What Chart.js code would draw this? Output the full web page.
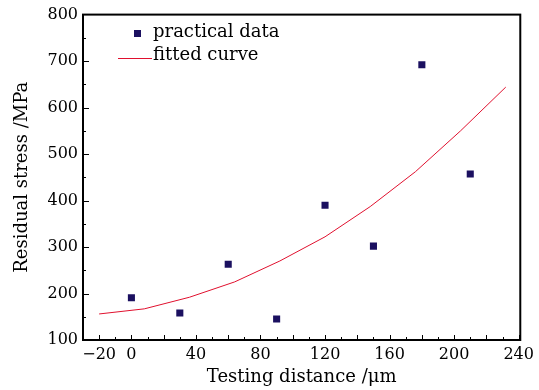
<!DOCTYPE html>
<html>
<head>
<meta charset="utf-8">
<script src="https://cdn.jsdelivr.net/npm/chart.js@4/dist/chart.umd.min.js"></script>
<style>
  html, body { margin: 0; padding: 0; background: #fff; }
  #wrap { width: 539px; height: 390px; }
</style>
</head>
<body>
<div id="wrap"><canvas id="chart" width="539" height="390"></canvas></div>
<script>
// measured points
const distX = [0, 30, 60, 90, 120, 150, 180, 210];
const stressY = [191, 158, 263, 145, 390, 302, 692, 457];

// fitted curve, sampled
const fitX = [-20, 8, 36, 64, 92, 120, 148, 176, 204, 232];
const fitY = [156, 167, 192, 225, 270, 322, 387, 462, 550, 644];

// axis ticks
const xLabels = [-20, 0, 40, 80, 120, 160, 200, 240];
const yLabels = [100, 200, 300, 400, 500, 600, 700, 800];

const serif = "'DejaVu Serif', 'Liberation Serif', serif";
const ink = '#000';

const i = id => document.getElementById(id);

const framePlugin = {
  id: 'frame',
  afterDraw(chart) {
    const { ctx, chartArea: a, scales } = chart;
    const xs = scales.x, ys = scales.y;
    ctx.save();
    ctx.strokeStyle = ink;

    // inward ticks
    ctx.lineWidth = 1;
    ctx.beginPath();
    for (let v = -20; v <= 240; v += 10) {
      const px = Math.round(xs.getPixelForValue(v)) + 0.5;
      const len = v % 20 === 0 ? 5 : 3;
      ctx.moveTo(px, a.bottom);
      ctx.lineTo(px, a.bottom - len);
    }
    for (let v = 150; v < 800; v += 50) {
      const py = Math.round(ys.getPixelForValue(v)) + 0.5;
      const len = v % 100 === 0 ? 6 : 3;
      ctx.moveTo(a.left, py);
      ctx.lineTo(a.left + len, py);
    }
    ctx.stroke();

    // box
    ctx.lineWidth = 2;
    ctx.strokeRect(a.left, a.top, a.right - a.left, a.bottom - a.top);

    // legend
    const pts = chart.data.datasets[0], fit = chart.data.datasets[1];
    ctx.font = '18px ' + serif;
    ctx.textBaseline = 'alphabetic';
    ctx.textAlign = 'left';
    const lx = a.left + 70;
    ctx.fillStyle = pts.backgroundColor;
    ctx.fillRect(lx - 19, 30, 7, 7);
    ctx.fillStyle = ink;
    ctx.fillText('practical data', lx, 37);
    ctx.strokeStyle = fit.borderColor;
    ctx.lineWidth = 1;
    ctx.beginPath();
    ctx.moveTo(lx - 35, 58.5);
    ctx.lineTo(lx - 1, 58.5);
    ctx.stroke();
    ctx.fillText('fitted curve', lx, 60);
    ctx.restore();
  }
};

new Chart(i('chart'), {
  type: 'scatter',
  data: {
    datasets: [
      {
        label: 'practical data',
        data: distX.map((x, k) => ({ x, y: stressY[k] })),
        pointStyle: 'rect',
        pointRadius: 5,
        pointBorderWidth: 0,
        backgroundColor: '#1b1060',
        borderColor: '#1b1060'
      },
      {
        label: 'fitted curve',
        data: fitX.map((x, k) => ({ x, y: fitY[k] })),
        showLine: true,
        pointRadius: 0,
        borderWidth: 1,
        borderColor: '#e0102e',
        backgroundColor: '#e0102e',
        tension: 0
      }
    ]
  },
  options: {
    responsive: false,
    animation: false,
    events: [],
    layout: { padding: { top: 13, right: 17, left: 0, bottom: 0 } },
    plugins: { legend: { display: false }, tooltip: { enabled: false } },
    scales: {
      x: {
        type: 'linear',
        min: -30,
        max: 241,
        afterBuildTicks: s => { s.ticks = xLabels.map(v => ({ value: v })); },
        afterFit: s => { s.height = 50; },
        grid: { display: false, drawTicks: false },
        border: { display: false },
        ticks: {
          color: ink,
          padding: 5,
          font: { family: serif, size: 16 },
          callback: v => String(v).replace('-', '\u2212')
        },
        title: {
          display: true,
          text: 'Testing distance /\u03bcm',
          color: ink,
          font: { family: serif, size: 18 },
          padding: { top: 0, bottom: 2 }
        }
      },
      y: {
        type: 'linear',
        min: 100,
        max: 800,
        afterBuildTicks: s => { s.ticks = yLabels.map(v => ({ value: v })); },
        afterFit: s => { s.width = 83; },
        grid: { display: false, drawTicks: false },
        border: { display: false },
        ticks: {
          color: ink,
          padding: 5,
          font: { family: serif, size: 16 }
        },
        title: {
          display: true,
          text: 'Residual stress /MPa',
          color: ink,
          font: { family: serif, size: 18 },
          padding: 12
        }
      }
    }
  },
  plugins: [framePlugin]
});
</script>
</body>
</html>
